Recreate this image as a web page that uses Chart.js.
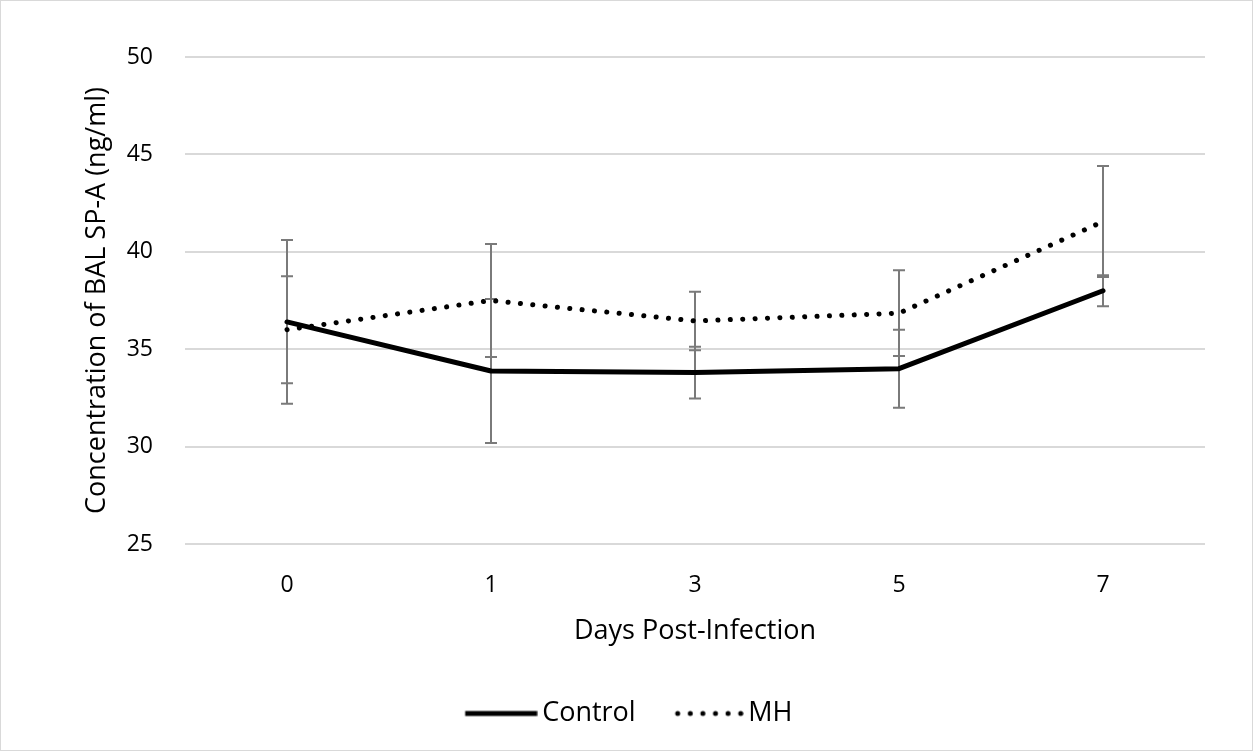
<!DOCTYPE html>
<html>
<head>
<meta charset="utf-8">
<script src="https://cdn.jsdelivr.net/npm/chart.js@4.4.0/dist/chart.umd.min.js"></script>
<style>
  html, body { margin: 0; padding: 0; background: #fff; }
  #wrap { width: 1253px; height: 751px; position: relative; }
</style>
</head>
<body>
<div id="wrap"><canvas id="c" width="1253" height="751"></canvas></div>
<script>
const categories = ['0', '1', '3', '5', '7'];
const controlValues = [36.4, 33.88, 33.8, 34.0, 38.0];
const controlErrors = [4.2, 3.7, 1.33, 2.0, 0.8];
const mhValues = [36.0, 37.5, 36.45, 36.85, 41.55];
const mhErrors = [2.75, 2.9, 1.5, 2.2, 2.85];
const yTicks = [25, 30, 35, 40, 45, 50];

const FONT = '"Open Sans", "Noto Sans", sans-serif';
const TICK_SIZE = 23;
const TITLE_SIZE = 27;

// Legend sample images (line placed toward the right so the label sits close to it)
function makeSample(dotted) {
  const c = document.createElement('canvas');
  c.width = 80; c.height = 10;
  const g = c.getContext('2d');
  g.fillStyle = '#000';
  if (dotted) {
    for (let k = 0; k < 6; k++) {
      g.beginPath();
      g.arc(14 + k * 12.6, 5, 2.5, 0, Math.PI * 2);
      g.fill();
    }
  } else {
    g.fillRect(7.5, 2.5, 72, 5);
  }
  return c;
}
const legendSamples = [makeSample(false), makeSample(true)];

const errorBarPlugin = {
  id: 'errorBars',
  beforeDatasetsDraw(chart) {
    const ctx = chart.ctx;
    const xs = chart.scales.x, ys = chart.scales.y;
    ctx.save();
    ctx.strokeStyle = '#7a7a7a';
    ctx.lineWidth = 2;
    chart.data.datasets.forEach(ds => {
      ds.values.forEach((v, i) => {
        const e = ds.errors[i];
        const x = xs.getPixelForValue(i);
        const yt = ys.getPixelForValue(v + e);
        const yb = ys.getPixelForValue(v - e);
        const cap = 6;
        ctx.beginPath();
        ctx.moveTo(x, yt); ctx.lineTo(x, yb);
        ctx.moveTo(x - cap, yt); ctx.lineTo(x + cap, yt);
        ctx.moveTo(x - cap, yb); ctx.lineTo(x + cap, yb);
        ctx.stroke();
      });
    });
    ctx.restore();
  }
};

// Centre the legend on the whole canvas rather than on the chart area
const legendCenterPlugin = {
  id: 'legendCenter',
  afterLayout(chart) {
    const lg = chart.legend;
    if (!lg) return;
    const shift = chart.width / 2 + 3 - (lg.left + lg.right) / 2;
    lg.left += shift;
    lg.right += shift;
  }
};

const borderPlugin = {
  id: 'outerBorder',
  afterDraw(chart) {
    const ctx = chart.ctx;
    ctx.save();
    ctx.strokeStyle = '#d9d9d9';
    ctx.lineWidth = 1;
    ctx.strokeRect(0.5, 0.5, chart.width - 1, chart.height - 1);
    ctx.restore();
  }
};

new Chart(document.getElementById('c'), {
  type: 'line',
  data: {
    labels: categories,
    datasets: [
      {
        label: 'Control',
        data: controlValues,
        values: controlValues,
        errors: controlErrors,
        borderColor: '#000',
        backgroundColor: '#000',
        borderWidth: 5,
        borderCapStyle: 'round',
        borderJoinStyle: 'round',
        pointRadius: 0,
        tension: 0
      },
      {
        label: 'MH',
        data: mhValues,
        values: mhValues,
        errors: mhErrors,
        borderColor: '#000',
        backgroundColor: '#000',
        borderWidth: 5,
        borderDash: [0.1, 12.3],
        borderCapStyle: 'round',
        pointRadius: 0,
        tension: 0
      }
    ]
  },
  options: {
    responsive: false,
    animation: false,
    devicePixelRatio: 1,
    layout: { padding: { left: 81, right: 48, top: 57, bottom: 14 } },
    plugins: {
      legend: {
        position: 'bottom',
        labels: {
          usePointStyle: true,
          pointStyleWidth: 62,
          boxHeight: 5,
          padding: 37,
          color: '#000',
          font: { family: FONT, size: TITLE_SIZE },
          generateLabels(chart) {
            return chart.data.datasets.map((ds, i) => ({
              text: ds.label,
              datasetIndex: i,
              pointStyle: legendSamples[i],
              strokeStyle: '#000',
              fillStyle: '#000',
              lineWidth: 0,
              fontColor: '#000',
              hidden: false
            }));
          }
        }
      },
      tooltip: { enabled: false }
    },
    scales: {
      x: {
        offset: true,
        grid: { display: false, drawTicks: false },
        border: { display: false },
        ticks: { color: '#000', padding: 28, font: { family: FONT, size: TICK_SIZE } },
        title: {
          display: true,
          text: 'Days Post-Infection',
          color: '#000',
          padding: { top: -12, bottom: 15 },
          font: { family: FONT, size: TITLE_SIZE }
        }
      },
      y: {
        min: 25,
        max: 50,
        afterBuildTicks(axis) { axis.ticks = yTicks.map(v => ({ value: v })); },
        afterFit(axis) { axis.width = 185 - 81; },
        grid: { color: '#d9d9d9', lineWidth: 2, drawTicks: false },
        border: { display: false },
        ticks: { color: '#000', padding: 32, font: { family: FONT, size: TICK_SIZE } },
        title: {
          display: true,
          text: 'Concentration of BAL SP-A (ng/ml)',
          color: '#000',
          padding: 0,
          font: { family: FONT, size: TITLE_SIZE }
        }
      }
    }
  },
  plugins: [errorBarPlugin, legendCenterPlugin, borderPlugin]
});
</script>
</body>
</html>
